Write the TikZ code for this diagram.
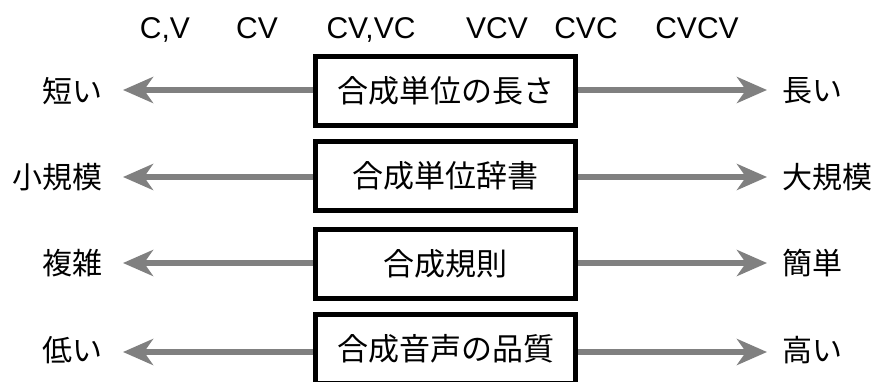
\documentclass[tikz,border=0pt]{standalone}
\usepackage{fontspec}
\setmainfont{Liberation Sans}
\newfontfamily\jp{Noto Sans CJK JP}
\usetikzlibrary{arrows.meta}
\definecolor{arrgray}{HTML}{808080}
\tikzset{
  unitbox/.style={draw=black, line width=5pt, minimum width=260pt, minimum height=69pt, inner sep=0pt, font=\jp\fontsize{31}{31}\selectfont},
  lefttxt/.style={anchor=east, inner sep=0pt, font=\jp\fontsize{30}{30}\selectfont},
  righttxt/.style={anchor=west, inner sep=0pt, font=\jp\fontsize{30}{30}\selectfont},
  toptxt/.style={anchor=base, inner sep=0pt, font=\fontsize{30}{30}\selectfont},
  grayarrow/.style={draw=arrgray, line width=6pt, -{Stealth[length=30pt, width=26pt, inset=9pt]}}
}
\begin{document}
\begin{tikzpicture}[x=1pt, y=-1pt]
\useasboundingbox (0,0) rectangle (879,381);
\clip (0,0) rectangle (879,381);
\fill[white] (0,0) rectangle (879,381);
% top labels
\node[toptxt] (t1) at (165,38) {C,V};
\node[toptxt] (t2) at (257,38) {CV};
\node[toptxt] (t3) at (371,38) {CV,VC};
\node[toptxt] (t4) at (497,38) {VCV};
\node[toptxt] (t5) at (586,38) {CVC};
\node[toptxt] (t6) at (697,38) {CVCV};
% boxes
\node[unitbox] (b1) at (445.5,91) {合成単位の長さ};
\node[unitbox] (b2) at (445.5,176) {合成単位辞書};
\node[unitbox] (b3) at (445.5,263.5) {合成規則};
\node[unitbox] (b4) at (445.5,349) {合成音声の品質};
% left labels
\node[lefttxt] (l1) at (103,91) {短い};
\node[lefttxt] (l2) at (103,177) {小規模};
\node[lefttxt] (l3) at (103,263) {複雑};
\node[lefttxt] (l4) at (103,350) {低い};
% right labels
\node[righttxt] (r1) at (782,91) {長い};
\node[righttxt] (r2) at (782,177) {大規模};
\node[righttxt] (r3) at (782,263) {簡単};
\node[righttxt] (r4) at (782,350) {高い};
% arrow ends
\coordinate (la1) at (123,90);
\coordinate (la2) at (123,177);
\coordinate (la3) at (123,263);
\coordinate (la4) at (123,352);
\coordinate (ra1) at (767,90);
\coordinate (ra2) at (767,177);
\coordinate (ra3) at (767,263);
\coordinate (ra4) at (767,352);
\draw[grayarrow] (b1.west |- la1) -- (la1);
\draw[grayarrow] (b2.west |- la2) -- (la2);
\draw[grayarrow] (b3.west |- la3) -- (la3);
\draw[grayarrow] (b4.west |- la4) -- (la4);
\draw[grayarrow] (b1.east |- ra1) -- (ra1);
\draw[grayarrow] (b2.east |- ra2) -- (ra2);
\draw[grayarrow] (b3.east |- ra3) -- (ra3);
\draw[grayarrow] (b4.east |- ra4) -- (ra4);
\end{tikzpicture}
\end{document}
